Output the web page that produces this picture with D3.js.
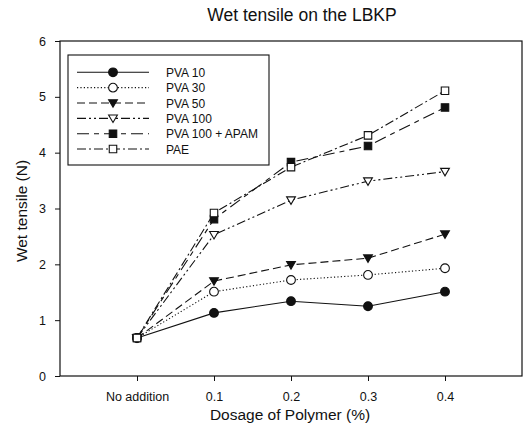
<!DOCTYPE html>
<html><head><meta charset="utf-8">
<script src="https://cdn.jsdelivr.net/npm/d3@7"></script>
<style>body{margin:0;background:#fff}text{font-family:"Liberation Sans",Arial,sans-serif;fill:#111}</style>
</head><body><svg id="c" width="524" height="435"></svg>
<script>
const categories = ["No addition","0.1","0.2","0.3","0.4"];
const seriesNames = ["PVA 10","PVA 30","PVA 50","PVA 100","PVA 100 + APAM","PAE"];
const pva10 = [0.68,1.13,1.34,1.25,1.51];
const pva30 = [0.68,1.51,1.72,1.81,1.93];
const pva50 = [0.68,1.70,1.99,2.11,2.54];
const pva100 = [0.68,2.53,3.15,3.49,3.66];
const pva100apam = [0.68,2.81,3.83,4.12,4.81];
const pae = [0.68,2.92,3.74,4.31,5.11];
const yTicks = [0,1,2,3,4,5,6];

const series = [pva10,pva30,pva50,pva100,pva100apam,pae];
const dashes = [null,"1.2,2.2","8,4","9,3,2,3,2,3","12,5,5,5","9,3,2,3"];
const markers = [
  {type:d3.symbolCircle, fill:"#111"},
  {type:d3.symbolCircle, fill:"#fff"},
  {type:"tri", fill:"#111"},
  {type:"tri", fill:"#fff"},
  {type:d3.symbolSquare, fill:"#111"},
  {type:d3.symbolSquare, fill:"#fff"}
];

const svg = d3.select("#c");
const L=60,R=522,T=41,B=376;
const x = d3.scaleLinear().domain([-1,5]).range([L,R]);
const y = d3.scaleLinear().domain([0,6]).range([B,T]);

// frame
svg.append("rect").attr("x",L).attr("y",T).attr("width",R-L).attr("height",B-T)
  .attr("fill","none").attr("stroke","#111").attr("stroke-width",1.2);

// y axis
const ya = svg.append("g").attr("transform",`translate(${L},0)`)
  .call(d3.axisLeft(y).tickValues(yTicks).tickSize(5).tickPadding(9).tickFormat(d3.format("d")));
ya.select(".domain").remove();
ya.selectAll("text").style("font-size","12.5px").style("font-family","Liberation Sans, Arial, sans-serif");
ya.selectAll("line").attr("stroke","#111");

// x axis
const xa = svg.append("g").attr("transform",`translate(0,${B})`)
  .call(d3.axisBottom(x).tickValues(d3.range(categories.length)).tickSize(5).tickPadding(11).tickFormat(i=>categories[i]));
xa.select(".domain").remove();
xa.selectAll("text").style("font-size","12.5px").style("font-family","Liberation Sans, Arial, sans-serif");
xa.selectAll("line").attr("stroke","#111");

// title and labels
svg.append("text").attr("x",302).attr("y",20.5).attr("text-anchor","middle").style("font-size","17.5px").text("Wet tensile on the LBKP");
svg.append("text").attr("x",290).attr("y",420).attr("text-anchor","middle").style("font-size","15.5px").text("Dosage of Polymer (%)");
svg.append("text").attr("transform","translate(27,211) rotate(-90)").attr("text-anchor","middle").style("font-size","15.5px").text("Wet tensile (N)");

function drawMarker(g, m, cx, cy){
  if(m.type==="tri"){
    const s=4.4;
    g.append("path").attr("d",`M${cx-s},${cy-s*0.75}L${cx+s},${cy-s*0.75}L${cx},${cy+s*0.95}Z`)
     .attr("fill",m.fill).attr("stroke","#111").attr("stroke-width",1.1);
  } else {
    const size = m.type===d3.symbolSquare ? 56 : 60;
    g.append("path").attr("d",d3.symbol().type(m.type).size(size)())
     .attr("transform",`translate(${cx},${cy})`)
     .attr("fill",m.fill).attr("stroke","#111").attr("stroke-width",1.1);
  }
}

const line = d3.line().x((d,i)=>x(i)).y(d=>y(d));
series.forEach((s,k)=>{
  svg.append("path").datum(s).attr("d",line).attr("fill","none").attr("stroke","#111")
    .attr("stroke-width",1.1).attr("stroke-dasharray",dashes[k]);
});
series.forEach((s,k)=>{
  const g = svg.append("g");
  s.forEach((v,i)=>drawMarker(g, markers[k], x(i), y(v)));
});

// legend
const lg = svg.append("g");
lg.append("rect").attr("x",68).attr("y",55).attr("width",201).attr("height",110)
  .attr("fill","#fff").attr("stroke","#111").attr("stroke-width",1.1);
seriesNames.forEach((n,k)=>{
  const yy = 72.3 + k*15.35;
  lg.append("line").attr("x1",77).attr("x2",149).attr("y1",yy).attr("y2",yy)
    .attr("stroke","#111").attr("stroke-width",1.1).attr("stroke-dasharray",dashes[k]);
  drawMarker(lg, markers[k], 113, yy);
  lg.append("text").attr("x",166).attr("y",yy+4.5).style("font-size","12px").text(n);
});
</script></body></html>
